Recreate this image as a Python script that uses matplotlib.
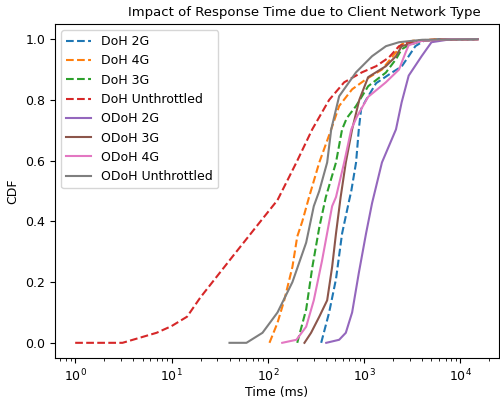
import numpy as np
import matplotlib
matplotlib.use("Agg")
import matplotlib.pyplot as plt

plt.rc('font', size=9)
plt.rc('axes', titlesize=9.5)
plt.rc('legend', fontsize=9)

# Response time (ms) and CDF values
doh_2g_t = [358, 433, 510, 590, 700, 735, 824, 880, 930, 1046, 1330, 1940, 2450, 2900, 3400, 4200, 6000, 15000]
doh_2g_y = [0.0, 0.10, 0.21, 0.36, 0.47, 0.50, 0.594, 0.703, 0.77, 0.80, 0.855, 0.89, 0.91, 0.944, 0.977, 0.995, 1.0, 1.0]

doh_4g_t = [104, 126, 148, 180, 202, 228, 268, 342, 455, 550, 750, 1046, 1530, 2140, 2450, 3200, 6000, 15000]
doh_4g_y = [0.0, 0.066, 0.14, 0.25, 0.35, 0.40, 0.48, 0.594, 0.703, 0.78, 0.835, 0.868, 0.90, 0.957, 0.983, 0.995, 1.0, 1.0]

doh_3g_t = [202, 250, 290, 342, 400, 510, 590, 660, 824, 1100, 1680, 2140, 2450, 2900, 4000, 8000, 15000]
doh_3g_y = [0.0, 0.11, 0.25, 0.38, 0.48, 0.594, 0.703, 0.74, 0.78, 0.845, 0.89, 0.934, 0.967, 0.98, 0.995, 1.0, 1.0]

doh_unthr_t = [1.0, 3.1, 7.0, 10, 14.5, 20, 43, 82, 126, 198, 289, 433, 620, 951, 1330, 1810, 2300, 2900, 5000, 15500]
doh_unthr_y = [0.0, 0.0, 0.033, 0.055, 0.086, 0.15, 0.284, 0.396, 0.47, 0.594, 0.703, 0.80, 0.858, 0.891, 0.911, 0.94, 0.977, 0.99, 0.998, 1.0]

odoh_2g_t = [404, 550, 645, 750, 880, 1046, 1208, 1530, 2140, 2450, 2900, 3950, 5000, 8000, 15000]
odoh_2g_y = [0.0, 0.01, 0.033, 0.10, 0.23, 0.36, 0.46, 0.594, 0.703, 0.792, 0.88, 0.944, 0.99, 1.0, 1.0]

odoh_3g_t = [240, 281, 342, 413, 465, 510, 570, 645, 750, 890, 1100, 1680, 2140, 2450, 4000, 8000, 15000]
odoh_3g_y = [0.0, 0.033, 0.086, 0.14, 0.25, 0.36, 0.48, 0.594, 0.703, 0.80, 0.875, 0.911, 0.944, 0.977, 0.995, 1.0, 1.0]

odoh_4g_t = [141, 198, 250, 300, 365, 465, 510, 620, 735, 845, 1100, 1680, 2300, 2700, 2900, 4000, 8000, 15000]
odoh_4g_y = [0.0, 0.01, 0.053, 0.14, 0.27, 0.45, 0.48, 0.594, 0.703, 0.746, 0.81, 0.858, 0.90, 0.957, 0.98, 0.995, 1.0, 1.0]

odoh_unthr_t = [40, 60, 88, 126, 180, 250, 300, 342, 413, 455, 550, 824, 1208, 1684, 2300, 4000, 15000]
odoh_unthr_y = [0.0, 0.0, 0.033, 0.10, 0.20, 0.33, 0.45, 0.50, 0.594, 0.703, 0.812, 0.891, 0.944, 0.977, 0.99, 0.998, 1.0]

series = [
    ("DoH 2G", doh_2g_t, doh_2g_y, "--"),
    ("DoH 4G", doh_4g_t, doh_4g_y, "--"),
    ("DoH 3G", doh_3g_t, doh_3g_y, "--"),
    ("DoH Unthrottled", doh_unthr_t, doh_unthr_y, "--"),
    ("ODoH 2G", odoh_2g_t, odoh_2g_y, "-"),
    ("ODoH 3G", odoh_3g_t, odoh_3g_y, "-"),
    ("ODoH 4G", odoh_4g_t, odoh_4g_y, "-"),
    ("ODoH Unthrottled", odoh_unthr_t, odoh_unthr_y, "-"),
]

fig = plt.figure(figsize=(5, 4), dpi=100)
ax = fig.add_axes([0.11, 0.105, 0.888, 0.835])

for i, (name, t, y, ls) in enumerate(series):
    ax.plot(t, y, ls=ls, color="C%d" % i, label=name, lw=1.5)

ax.set_xscale("log")
ax.set_xlabel("Time (ms)", labelpad=1.5)
ax.set_ylabel("CDF")
ax.set_title("Impact of Response Time due to Client Network Type", loc="right", x=0.96)
ax.legend(loc="upper left")

fig.savefig("out.png", dpi=100)
